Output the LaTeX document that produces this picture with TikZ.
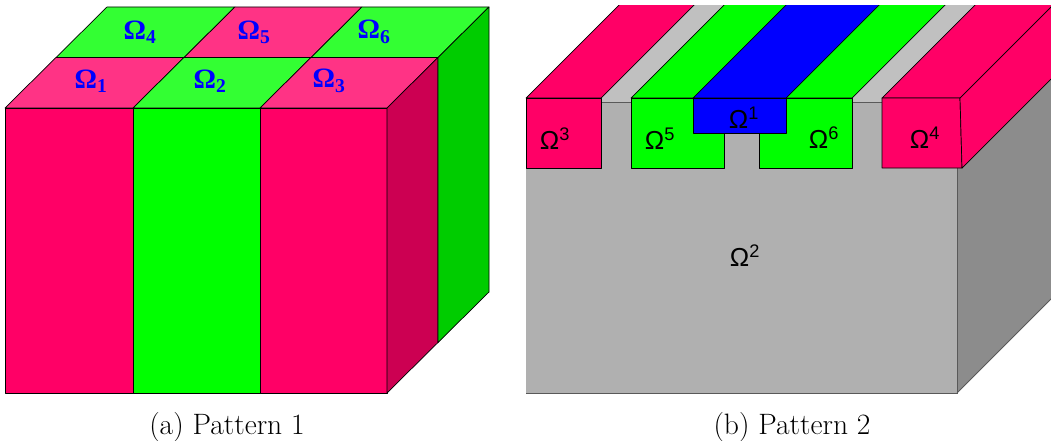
\documentclass[tikz,border=0pt]{standalone}
\usepackage{fontspec}
\usepackage{tikz}
\newfontfamily\labserif{Liberation Serif}
\newfontfamily\labsans{Liberation Sans}
\definecolor{pinkf}{HTML}{FF0066}
\definecolor{pinkt}{HTML}{FF3385}
\definecolor{pinks}{HTML}{CC0052}
\definecolor{greenf}{HTML}{00FF00}
\definecolor{greent}{HTML}{33FF33}
\definecolor{greens}{HTML}{00CC00}
\definecolor{bluef}{HTML}{0000FF}
\definecolor{grayf}{HTML}{B0B0B0}
\definecolor{grayt}{HTML}{C0C0C0}
\definecolor{grays}{HTML}{8C8C8C}
\tikzset{face/.style={draw=black,line width=0.7pt,line join=round},
  edge/.style={draw=black!65,line width=1pt},
  lab/.style={text=bluef,font=\labserif\bfseries\fontsize{28}{28}\selectfont},
  labs/.style={font=\labsans\fontsize{26}{26}\selectfont},
  capt/.style={anchor=base,font=\fontsize{29.5}{32}\selectfont}}

\begin{document}
\begin{tikzpicture}[x=1pt,y=-1pt]
        \useasboundingbox (0,0) rectangle (1051,441);

        % pattern 1: top faces
        \draw[face,fill=pinkt] (5,108) -- (133,108) -- (184,57.5) -- (56,57.5) -- cycle;
        \draw[face,fill=greent] (133,108) -- (260,108) -- (311,57.5) -- (184,57.5) -- cycle;
        \draw[face,fill=pinkt] (260,108) -- (387,108) -- (438,57.5) -- (311,57.5) -- cycle;
        \draw[face,fill=greent] (56,57.5) -- (184,57.5) -- (235,7) -- (107,7) -- cycle;
        \draw[face,fill=pinkt] (184,57.5) -- (311,57.5) -- (362,7) -- (235,7) -- cycle;
        \draw[face,fill=greent] (311,57.5) -- (438,57.5) -- (489,7) -- (362,7) -- cycle;
        % front and side
        \draw[face,fill=pinkf] (5,108) rectangle (133,393);
        \draw[face,fill=greenf] (133,108) rectangle (260,393);
        \draw[face,fill=pinkf] (260,108) rectangle (387,393);
        \draw[face,fill=pinks] (387,108) -- (438,57.5) -- (438,342.5) -- (387,393) -- cycle;
        \draw[face,fill=greens] (438,57.5) -- (489,7) -- (489,292) -- (438,342.5) -- cycle;

        \node[lab] (w1) at (91,81) {Ω\textsubscript{1}};
        \node[lab] (w2) at (210,81) {Ω\textsubscript{2}};
        \node[lab] (w3) at (329,81) {Ω\textsubscript{3}};
        \node[lab] (w4) at (140,32) {Ω\textsubscript{4}};
        \node[lab] (w5) at (254,32) {Ω\textsubscript{5}};
        \node[lab] (w6) at (374,32) {Ω\textsubscript{6}};

        % pattern 2
        \begin{scope}
        \clip (520,6) rectangle (1051,441);
        \fill[grayt] (526,103) -- (957,103) -- ++(110,-110) -- (636,-7) -- cycle;
        \fill[grayf] (526,103) rectangle (957,393);
        \fill[grays] (957,103) -- (957,393) -- ++(110,-110) -- (1067,-7) -- cycle;
        \draw[edge] (526,103) -- (957,103) -- (957,393) -- (526,393);
        \draw[edge] (957,393) -- ++(110,-110);

        \draw[face,fill=pinkf] (526,98) -- (601,98) -- ++(110,-110) -- (636,-12) -- cycle;
        \draw[face,fill=greenf] (631,98) -- (852,98) -- ++(110,-110) -- (741,-12) -- cycle;
        \draw[face,fill=bluef] (693,98) -- (786,98) -- ++(110,-110) -- (803,-12) -- cycle;
        \draw[face,fill=pinkf] (882,98) -- (960,98) -- ++(110,-110) -- (992,-12) -- cycle;

        \draw[face,fill=pinkf] (526,98) rectangle (601,168);
        \draw[face,fill=greenf] (631,98) rectangle (724,168);
        \draw[face,fill=greenf] (759,98) rectangle (852,168);
        \draw[face,fill=bluef] (693,98) rectangle (786,133);
        \draw[face,fill=pinkf] (882,98) -- (960,98) -- (962,168) -- (882,168) -- cycle;
        \draw[face,fill=pinkf] (960,98) -- ++(110,-110) -- ++(2,70) -- (962,168) -- cycle;
        \end{scope}

        \node[labs] (v3) at (555,139) {Ω\textsuperscript{3}};
        \node[labs] (v5) at (660,139) {Ω\textsuperscript{5}};
        \node[labs] (v1) at (744,118) {Ω\textsuperscript{1}};
        \node[labs] (v6) at (824,138) {Ω\textsuperscript{6}};
        \node[labs] (v4) at (925,138) {Ω\textsuperscript{4}};
        \node[labs] (v2) at (745,256) {Ω\textsuperscript{2}};

        \node[capt] (capa) at (227,434) {(a) Pattern 1};
        \node[capt] (capb) at (792,434) {(b) Pattern 2};
    \end{tikzpicture}
\end{document}
